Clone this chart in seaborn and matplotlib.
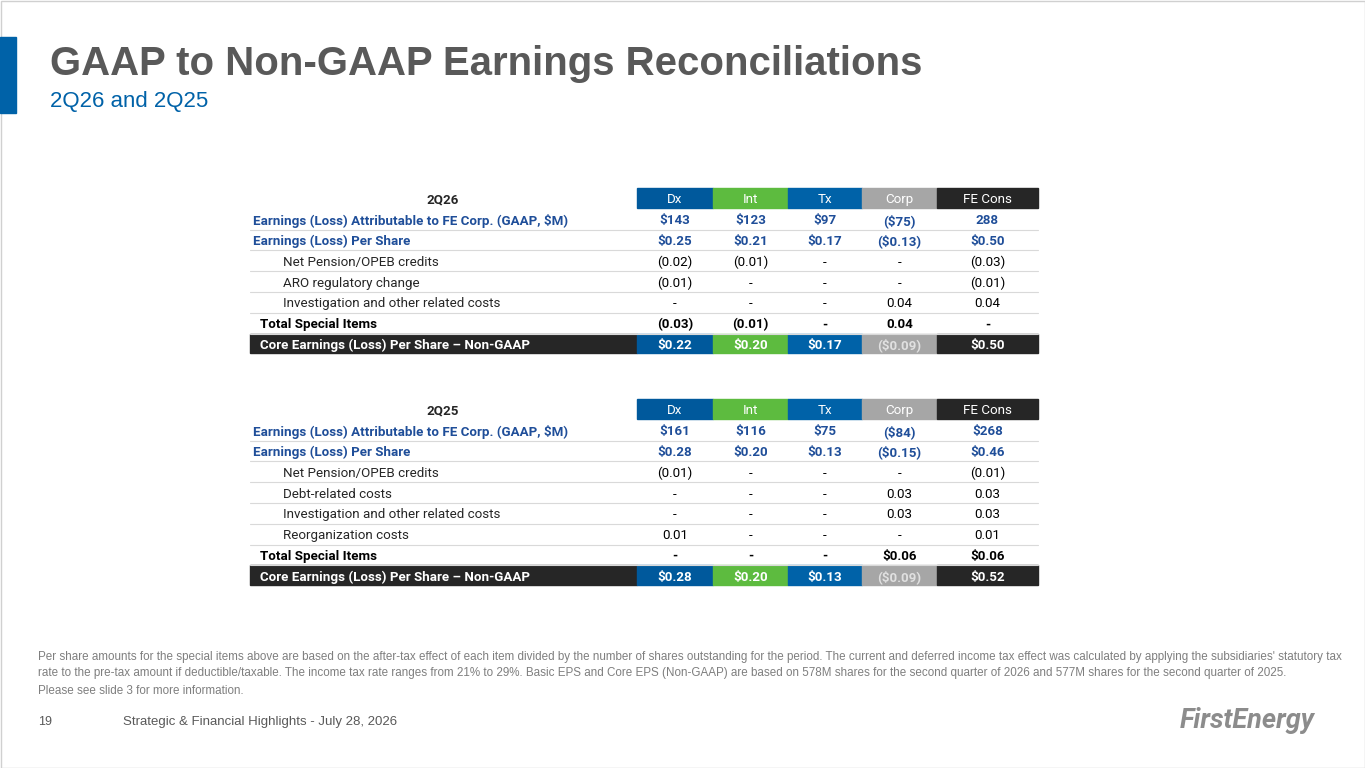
import matplotlib
matplotlib.use("Agg")
import matplotlib.pyplot as plt
import seaborn as sns
from matplotlib.patches import Rectangle

sns.set_theme(style="white")
plt.rcParams['font.family'] = ['Liberation Sans', 'DejaVu Sans']
NARROW = ['Roboto', 'Liberation Sans', 'DejaVu Sans']

cols = ["Dx", "Int", "Tx", "Corp", "FE Cons"]
col_colors = ["#00599C", "#5DBB3F", "#0062A8", "#A6A6A6", "#262626"]

labels_26 = ["Earnings (Loss) Attributable to FE Corp. (GAAP, $M)", "Earnings (Loss) Per Share",
             "Net Pension/OPEB credits", "ARO regulatory change",
             "Investigation and other related costs", "Total Special Items",
             "Core Earnings (Loss) Per Share \u2013 Non-GAAP"]
vals_26 = [["$143", "$123", "$97", "($75)", "288"],
           ["$0.25", "$0.21", "$0.17", "($0.13)", "$0.50"],
           ["(0.02)", "(0.01)", "-", "-", "(0.03)"],
           ["(0.01)", "-", "-", "-", "(0.01)"],
           ["-", "-", "-", "0.04", "0.04"],
           ["(0.03)", "(0.01)", "-", "0.04", "-"],
           ["$0.22", "$0.20", "$0.17", "($0.09)", "$0.50"]]
kinds_26 = ["blue", "blue", "indent", "indent", "indent", "total", "core"]

labels_25 = ["Earnings (Loss) Attributable to FE Corp. (GAAP, $M)", "Earnings (Loss) Per Share",
             "Net Pension/OPEB credits", "Debt-related costs",
             "Investigation and other related costs", "Reorganization costs",
             "Total Special Items", "Core Earnings (Loss) Per Share \u2013 Non-GAAP"]
vals_25 = [["$161", "$116", "$75", "($84)", "$268"],
           ["$0.28", "$0.20", "$0.13", "($0.15)", "$0.46"],
           ["(0.01)", "-", "-", "-", "(0.01)"],
           ["-", "-", "-", "0.03", "0.03"],
           ["-", "-", "-", "0.03", "0.03"],
           ["0.01", "-", "-", "-", "0.01"],
           ["-", "-", "-", "$0.06", "$0.06"],
           ["$0.28", "$0.20", "$0.13", "($0.09)", "$0.52"]]
kinds_25 = ["blue", "blue", "indent", "indent", "indent", "indent", "total", "core"]

fig = plt.figure(figsize=(13.65, 7.68), dpi=100)
ax = fig.add_axes([0, 0, 1, 1])
ax.set_xlim(0, 1365)
ax.set_ylim(768, 0)
ax.axis("off")

ax.add_patch(Rectangle((0.5, 0.5), 1364, 767, fill=False, ec="#D0D0D0", lw=1))
ax.add_patch(Rectangle((0, 37), 16, 76, color="#0062A8"))
ax.text(50, 64, "GAAP to Non-GAAP Earnings Reconciliations", fontsize=28.9, weight="bold",
        color="#595959", va="center")
ax.text(50, 101, "2Q26 and 2Q25", fontsize=16, color="#0062A8", va="center")

xedges = [637, 713, 788, 862, 937, 1038]
rh = 20.8
fs = 9.6
VA = "center_baseline"


def table(y0, title, labels, vals, kinds):
    ax.text(443, y0 + rh / 2, title, family=NARROW, fontsize=fs, weight="bold",
            color="#262626", ha="center", va=VA)
    for j, c in enumerate(cols):
        ax.add_patch(Rectangle((xedges[j], y0), xedges[j + 1] - xedges[j], rh - 1,
                               color=col_colors[j]))
        ax.text((xedges[j] + xedges[j + 1]) / 2, y0 + rh / 2, c, family=NARROW,
                fontsize=fs, color="white", ha="center", va=VA)
    for i, (lab, row, k) in enumerate(zip(labels, vals, kinds)):
        y = y0 + rh * (i + 1)
        yc = y + rh / 2
        bold = k != "indent"
        if k == "core":
            ax.add_patch(Rectangle((250, y), 387, rh - 1, color="#262626"))
            for j in range(5):
                ax.add_patch(Rectangle((xedges[j], y), xedges[j + 1] - xedges[j], rh - 1,
                                       color=col_colors[j]))
        else:
            ax.plot([250, 1038], [y + rh, y + rh], color="#D9D9D9", lw=0.8)
        if k == "blue":
            ax.text(253, yc, lab, family=NARROW, fontsize=fs, weight="bold",
                    color="#1F4E99", va=VA)
        elif k == "indent":
            ax.text(283, yc, lab, family=NARROW, fontsize=fs, color="#262626", va=VA)
        else:
            ax.text(260, yc, lab, family=NARROW, fontsize=fs, weight="bold",
                    color="white" if k == "core" else "#000000", va=VA)
        for j, v in enumerate(row):
            if k == "core":
                tc = "#E0E0E0" if j == 3 else "white"
            elif k == "blue":
                tc = "#1F4E99"
            else:
                tc = "#000000"
            ax.text((xedges[j] + xedges[j + 1]) / 2, yc, v, family=NARROW, fontsize=fs,
                    weight="bold" if bold else "normal", color=tc, ha="center", va=VA)


table(188, "2Q26", labels_26, vals_26, kinds_26)
table(399, "2Q25", labels_25, vals_25, kinds_25)

foot = ("Per share amounts for the special items above are based on the after-tax effect of each item divided by the number of shares outstanding for the period. The current and deferred income tax effect was calculated by applying the subsidiaries' statutory tax\n"
        "rate to the pre-tax amount if deductible/taxable. The income tax rate ranges from 21% to 29%. Basic EPS and Core EPS (Non-GAAP) are based on 578M shares for the second quarter of 2026 and 577M shares for the second quarter of 2025.")
ax.text(38, 665, foot, fontsize=8.4, color="#7F7F7F", va="center", linespacing=1.5)
ax.text(38, 691, "Please see slide 3 for more information.", fontsize=8.4, color="#7F7F7F", va="center")
ax.text(38, 722, "19", fontsize=9, color="#595959", va="center")
ax.text(123, 722, "Strategic & Financial Highlights - July 28, 2026", fontsize=9.5, color="#595959", va="center")
ax.text(1180, 721, "FirstEnergy", fontsize=19.5, style="italic", weight="bold", color="#8C8C8C",
        va="center", family=NARROW)

fig.savefig("out.png", dpi=100)
